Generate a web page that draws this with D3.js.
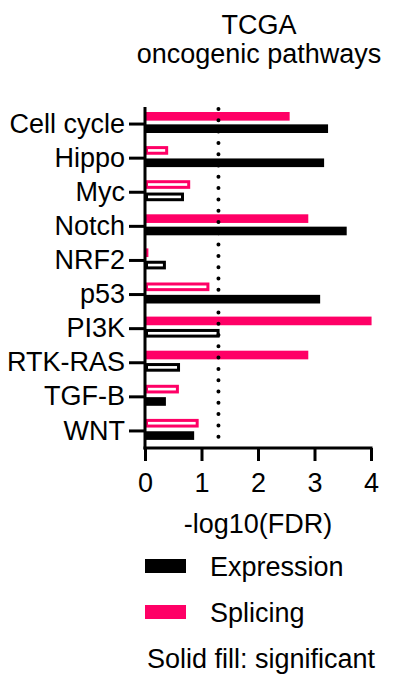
<!DOCTYPE html>
<html>
<head>
<meta charset="utf-8">
<script src="https://cdn.jsdelivr.net/npm/d3@7"></script>
<style>
  body { margin: 0; background: #fff; }
  text { font-family: "Liberation Sans", Arial, sans-serif; fill: #000; }
</style>
</head>
<body>
<svg></svg>
<script>
// values
let pathways = ['Cell cycle', 'Hippo', 'Myc', 'Notch', 'NRF2', 'p53', 'PI3K', 'RTK-RAS', 'TGF-B', 'WNT'];
let expression = [3.24, 3.17, 0.69, 3.57, 0.37, 3.10, 1.32, 0.62, 0.37, 0.87];
let expressionSig = [true, true, false, true, false, true, false, false, true, true];
let splicing = [2.56, 0.41, 0.80, 2.89, 0.06, 1.14, 4.01, 2.89, 0.60, 0.95];
let splicingSig = [true, false, false, true, true, false, true, true, false, false];
let xTicks = [0, 1, 2, 3, 4];
let threshold = 1.3; // -log10(0.05)

let config = { svg: {}, plot: {} };
config.svg.width = 393;
config.svg.height = 687;
config.plot.left = 145;
config.plot.right = 371;
config.plot.top = 107;
config.plot.bottom = 448;

let fontSize = '27px';
let colors = { Expression: '#000000', Splicing: '#ff0066' };

let svg = d3.select('svg')
  .attr('width', config.svg.width)
  .attr('height', config.svg.height);

// build rows for drawing
let rows = pathways.map(function(p, i) {
  return {
    pathway: p,
    bars: [
      { series: 'Splicing', value: splicing[i], sig: splicingSig[i] },
      { series: 'Expression', value: expression[i], sig: expressionSig[i] }
    ]
  };
});

let scale = {};
scale.x = d3.scaleLinear().domain([0, 4]).range([config.plot.left, config.plot.right]);
scale.y = d3.scaleBand().domain(pathways).range([config.plot.top, config.plot.bottom]);
scale.sub = d3.scaleBand().domain(['Splicing', 'Expression'])
  .range([5, 26]).paddingInner(0.3);

// title
svg.append('text')
  .attr('x', 259).attr('y', 34)
  .style('text-anchor', 'middle')
  .style('font-size', fontSize)
  .text('TCGA');
svg.append('text')
  .attr('x', 259).attr('y', 63)
  .style('text-anchor', 'middle')
  .style('font-size', fontSize)
  .text('oncogenic pathways');

// bars
let plot = svg.append('g').attr('id', 'plot');
let groups = plot.selectAll('g.row')
  .data(rows)
  .enter()
  .append('g')
  .attr('class', 'row')
  .attr('transform', d => translate(0, scale.y(d.pathway)));

let sw = 3;
groups.selectAll('rect')
  .data(d => d.bars)
  .enter()
  .append('rect')
  .attr('x', d => d.sig ? scale.x(0) : scale.x(0) + sw / 2)
  .attr('y', d => d.sig ? scale.sub(d.series) : scale.sub(d.series) + sw / 2)
  .attr('width', d => Math.max(0, d.sig ? scale.x(d.value) - scale.x(0) : scale.x(d.value) - scale.x(0) - sw))
  .attr('height', d => d.sig ? scale.sub.bandwidth() : scale.sub.bandwidth() - sw)
  .style('fill', d => d.sig ? colors[d.series] : '#fff')
  .style('stroke', d => d.sig ? 'none' : colors[d.series])
  .style('stroke-width', sw);

// significance threshold
svg.append('line')
  .attr('x1', scale.x(threshold)).attr('x2', scale.x(threshold))
  .attr('y1', config.plot.top + 2).attr('y2', config.plot.bottom)
  .style('stroke', '#000')
  .style('stroke-width', 4)
  .style('stroke-linecap', 'round')
  .style('stroke-dasharray', '0,11.3');

// axes
let axis = {};
axis.x = d3.axisBottom(scale.x).tickValues(xTicks).tickFormat(d3.format('d'))
  .tickSizeInner(13).tickSizeOuter(0).tickPadding(12);
axis.y = d3.axisLeft(scale.y).tickSizeInner(16).tickSizeOuter(0).tickPadding(4);

let gx = svg.append('g')
  .attr('transform', translate(0, config.plot.bottom))
  .call(axis.x);
let gy = svg.append('g')
  .attr('transform', translate(config.plot.left, 0))
  .call(axis.y);

[gx, gy].forEach(function(g) {
  g.selectAll('path, line').style('stroke', '#000').style('stroke-width', 3);
  g.selectAll('text')
    .style('font-family', '"Liberation Sans", Arial, sans-serif')
    .style('font-size', fontSize)
    .style('fill', '#000');
});
gy.select('path.domain').attr('d', 'M0,' + (config.plot.bottom + 1.5) + 'V' + config.plot.top);
gx.select('path.domain').attr('d', 'M' + (config.plot.left - 1.5) + ',0H' + (config.plot.right + 1.5));

svg.append('text')
  .attr('x', 258).attr('y', 533)
  .style('text-anchor', 'middle')
  .style('font-size', fontSize)
  .text('-log10(FDR)');

// legend
let legend = svg.append('g').attr('id', 'legend');
let legendItems = ['Expression', 'Splicing'];
legendItems.forEach(function(name, i) {
  let y = 559 + i * 46;
  legend.append('rect')
    .attr('x', 145).attr('y', y)
    .attr('width', 41).attr('height', 14)
    .style('fill', colors[name]);
  legend.append('text')
    .attr('x', 210).attr('y', y + 17)
    .style('font-size', fontSize)
    .text(name);
});
legend.append('text')
  .attr('x', 147).attr('y', 668)
  .style('font-size', fontSize)
  .text('Solid fill: significant');

function translate(x, y) {
  return 'translate(' + x + ',' + y + ')';
}
</script>
</body>
</html>
